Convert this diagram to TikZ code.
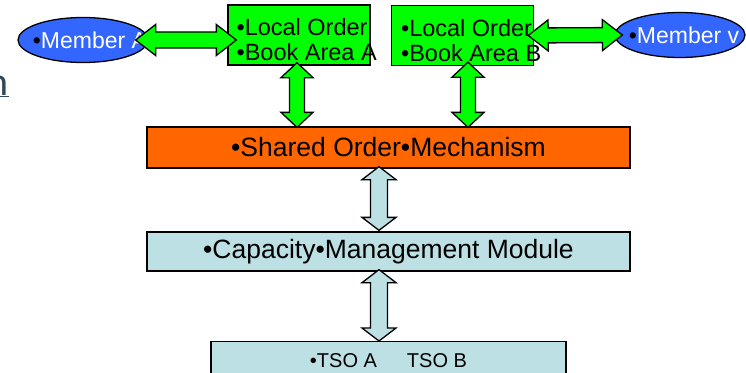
\documentclass[tikz,border=0pt]{standalone}
\usepackage{fontspec}
\setmainfont{Liberation Sans}
\newfontfamily\fragfont{Carlito}
\usetikzlibrary{positioning,calc,shapes.geometric}

\definecolor{memblue}{HTML}{3366FF}
\definecolor{lobgreen}{HTML}{00FF00}
\definecolor{sharedorange}{HTML}{FF6600}
\definecolor{cmmblue}{HTML}{BCE0E4}
\definecolor{fraggrey}{HTML}{2E4A55}

\newcommand{\memtext}[1]{\textcolor{black}{•}\textcolor{white}{#1}}
% fat two-headed arrow: style, from, to, shaft half width, head half width, head length
\newcommand{\fatarrow}[6]{%
	\draw[#1] let \p1=#2, \p2=#3, \n1={atan2(\y2-\y1,\x2-\x1)}, \n2={veclen(\x2-\x1,\y2-\y1)} in
	[shift={(\p1)}, rotate=\n1]
	(0,0) -- (#6,#5) -- (#6,#4) -- (\n2-#6,#4) -- (\n2-#6,#5) -- (\n2,0)
	-- (\n2-#6,-#5) -- (\n2-#6,-#4) -- (#6,-#4) -- (#6,-#5) -- cycle;}

\begin{document}
\begin{tikzpicture}[x=1pt,y=-1pt,
	member/.style={ellipse, draw=black, line width=1.3pt, fill=memblue, minimum width=130pt, minimum height=45pt, inner sep=0pt, font=\fontsize{23}{25}\selectfont},
	lob/.style={rectangle, draw=black, line width=1.3pt, fill=lobgreen, minimum width=142pt, minimum height=60pt, inner sep=0pt},
	lobtext/.style={align=left, inner sep=0pt, font=\fontsize{23.5}{25}\selectfont},
	layer/.style={rectangle, draw=black, line width=1.3pt, minimum width=483pt, inner sep=0pt, font=\fontsize{26.5}{28}\selectfont},
	greenarrow/.style={draw=black, line width=1.3pt, fill=lobgreen, line join=miter},
	bluearrow/.style={draw=black, line width=1.3pt, fill=cmmblue, line join=miter}]
	
	\useasboundingbox (0,0) rectangle (746,372);
	
	%Nodes
	\node[anchor=base east, inner sep=0pt, text=fraggrey, font=\fontsize{40}{40}\fragfont] (frag) at (9,95) {\underline{n}};
	\node[member] (memA) at (83,40) {\makebox[70pt][c]{\hspace{14pt}\memtext{Member A}}};
	\node[member] (memB) at (680,35) {\makebox[70pt][c]{\hspace{8pt}\memtext{Member v}}};
	\node[lob] (lobA) at (299,35) {};
	\node[lob] (lobB) at (462.5,35.5) {};
	\node[lobtext, right=9pt of lobA.west, yshift=-5pt] (lobAtext) {•Local Order\\•Book Area A};
	\node[lobtext, right=10pt of lobB.west, yshift=-5pt] (lobBtext) {•Local Order\\•Book Area B};
	\node[layer, fill=sharedorange, minimum height=41pt] (shared) at (388.5,147.5) {•Shared Order•Mechanism};
	\node[layer, fill=cmmblue, minimum height=39pt] (cmm) at (388.5,251.5) {•Capacity•Management Module};
	\node[layer, fill=cmmblue, minimum width=355pt, anchor=north, text height=18pt, text depth=32pt, inner ysep=8pt, font=\fontsize{20}{22}\selectfont] (tso) at (388.5,341) {•TSO A\hspace{30pt}TSO B};
	
	%Arrows
	\fatarrow{greenarrow}{($(memA.east)+(-13,0)$)}{($(memA.east -| lobA.west)+(9,0)$)}{8}{15.5}{20}
	\fatarrow{greenarrow}{($(lobB.east)+(-6,0)$)}{($(memB.west)+(8,0)$)}{7.5}{15.5}{20}
	\fatarrow{greenarrow}{($(lobA.south)+(-2,-3)$)}{($(lobA.south |- shared.north)+(-2,1)$)}{7.5}{16}{15}
	\fatarrow{greenarrow}{($(lobB.south)+(5.5,-4)$)}{($(lobB.south |- shared.north)+(5.5,1)$)}{7.5}{16}{15}
	\fatarrow{bluearrow}{($(shared.south)+(-9.5,-2)$)}{($(cmm.north)+(-9.5,-1)$)}{8.5}{17}{13}
	\fatarrow{bluearrow}{($(cmm.south)+(-9.5,-2)$)}{($(tso.north)+(-9.5,0)$)}{8.5}{17}{13}
\end{tikzpicture}
\end{document}
